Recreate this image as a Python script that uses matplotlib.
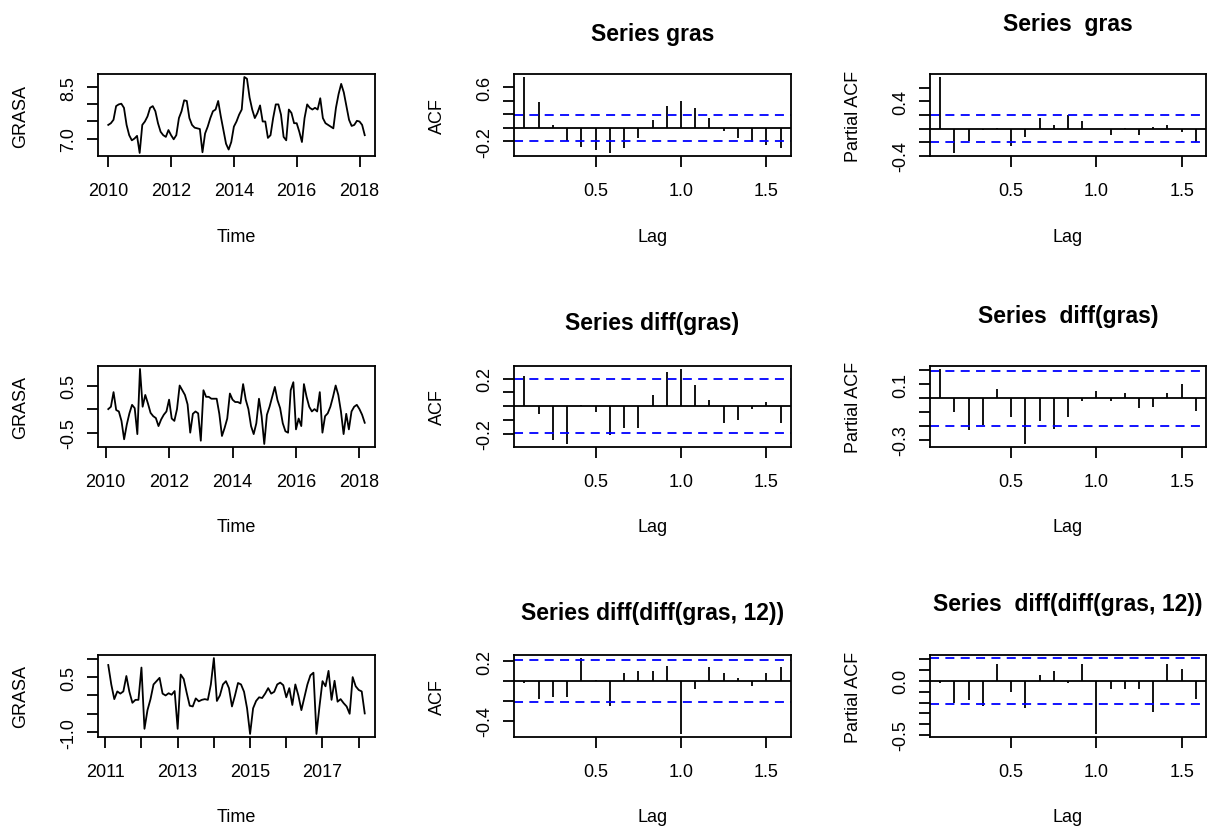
import numpy as np
import matplotlib
matplotlib.use('Agg')
import matplotlib.pyplot as plt

plt.rcParams['font.family'] = ['Liberation Sans', 'DejaVu Sans']

W, H = 1207, 829

# monthly series
gras = [7.4, 7.45, 7.55, 7.95, 8.0, 8.02, 7.9, 7.4, 7.1, 6.95, 7.0, 7.08,
        6.58, 7.4, 7.5, 7.65, 7.9, 7.95, 7.8, 7.45, 7.2, 7.1, 7.05, 7.25,
        7.1, 6.98, 7.1, 7.6, 7.8, 8.12, 8.1, 7.6, 7.4, 7.32, 7.3, 7.28,
        6.6, 7.15, 7.35, 7.6, 7.8, 7.85, 8.1, 7.65, 7.25, 6.85, 6.68, 6.9,
        7.35, 7.5, 7.7, 7.85, 8.8, 8.75, 8.2, 7.85, 7.6, 7.75, 7.97, 7.5,
        7.5, 7.02, 7.1, 7.6, 8.0, 8.0, 7.7, 7.05, 6.95, 7.85, 7.75, 7.45,
        7.45, 7.2, 6.9, 7.6, 8.0, 7.9, 7.85, 7.9, 7.85, 8.18, 7.6, 7.45,
        7.4, 7.35, 7.3, 7.9, 8.3, 8.6, 8.35, 7.95, 7.55, 7.37, 7.4, 7.52,
        7.5, 7.4, 7.1]
gras_start = 2010.0

dgras = [0.0, 0.05, 0.36, -0.02, -0.05, -0.25, -0.64, -0.33, -0.09, 0.09, 0.02,
         -0.53, 0.85, 0.05, 0.3, 0.12, -0.08, -0.15, -0.19, -0.36, -0.22, -0.12, -0.05,
         0.2, -0.2, -0.25, 0.0, 0.5, 0.4, 0.3, 0.1, -0.5, -0.1, -0.05, -0.09,
         -0.67, 0.4, 0.26, 0.26, 0.22, 0.22, 0.22, -0.1, -0.57, -0.4, -0.2, 0.33,
         0.2, 0.15, 0.15, 0.12, 0.53, 0.2, 0.0, -0.36, -0.53, -0.3, 0.22, -0.15,
         -0.74, -0.12, 0.05, 0.26, 0.47, 0.19, 0.02, -0.3, -0.47, -0.5, 0.4, 0.57,
         -0.43, -0.2, -0.36, 0.53, 0.26, 0.05, -0.05, 0.0, -0.05, 0.36, -0.5, -0.15,
         -0.09, 0.05, 0.26, 0.5, 0.3, -0.05, -0.53, -0.1, -0.43, -0.05, 0.05, 0.09,
         0.0, -0.12, -0.29]
dgras_start = 2010 + 1 / 12

ddgras = [0.83, 0.3, -0.1, 0.11, 0.05, 0.11, 0.53, 0.1, -0.2, -0.12, -0.12,
          0.76, -0.91, -0.4, -0.1, 0.3, 0.39, 0.48, 0.05, 0.0, 0.06, 0.02, 0.12,
          -0.91, 0.57, 0.45, 0.07, -0.28, -0.3, -0.08, -0.16, -0.12, -0.1, -0.12, 0.3,
          1.02, -0.15, 0.0, 0.3, 0.39, 0.2, -0.3, 0.0, 0.34, 0.3, 0.1, -0.35,
          -1.05, -0.35, -0.15, -0.05, -0.07, 0.05, 0.2, 0.05, 0.1, 0.3, 0.35, 0.28,
          -0.05, 0.2, -0.26, 0.3, 0.0, -0.4, -0.05, 0.3, 0.55, 0.62, -1.05, -0.3,
          0.39, 0.25, 0.67, -0.12, 0.4, -0.17, -0.1, -0.21, -0.3, -0.5, 0.5, 0.25,
          0.15, 0.11, -0.49]
ddgras_start = 2011 + 1 / 12

# correlations, lags 1..19 (months)
acf1 = [0.75, 0.38, 0.04, -0.2, -0.28, -0.33, -0.37, -0.30, -0.15, 0.11,
        0.32, 0.40, 0.29, 0.14, -0.04, -0.15, -0.21, -0.25, -0.30]
pacf1 = [0.76, -0.36, -0.19, -0.02, 0.01, -0.25, -0.12, 0.16, 0.055, 0.2,
         0.11, -0.01, -0.10, 0.01, -0.10, 0.025, 0.055, -0.045, -0.2]
acf2 = [0.22, -0.057, -0.248, -0.276, 0.005, -0.045, -0.21, -0.16, -0.16, 0.083,
        0.25, 0.27, 0.157, 0.045, -0.12, -0.098, -0.02, 0.03, -0.12]
pacf2 = [0.21, -0.10, -0.226, -0.19, 0.067, -0.136, -0.33, -0.167, -0.224, -0.136,
         -0.02, 0.052, -0.02, 0.04, -0.071, -0.06, 0.04, 0.1, -0.095]
acf3 = [-0.024, -0.186, -0.16, -0.16, 0.23, 0.005, -0.25, 0.078, 0.1, 0.1,
        0.153, -0.535, -0.08, 0.136, 0.078, 0.027, -0.047, 0.078, 0.136]
pacf3 = [-0.02, -0.206, -0.175, -0.228, 0.154, -0.105, -0.25, 0.055, 0.092, -0.02,
         0.154, -0.49, -0.074, -0.074, -0.074, -0.29, 0.154, 0.108, -0.17]
conf = [0.197, 0.198, 0.211]

titles_acf = ['Series gras', 'Series diff(gras)', 'Series diff(diff(gras, 12))']
titles_pacf = ['Series  gras', 'Series  diff(gras)', 'Series  diff(diff(gras, 12))']

# pixel layout
cols = [(98, 375), (514, 791), (930, 1206)]
rows = [(75, 157), (367, 448), (656, 738)]
title_y_acf = [35, 324, 614]
title_y_pacf = [24, 316, 605]
xlab_y = [238, 528, 818]
ylab_x = [21, 437, 853]

LW = 1.3

fig = plt.figure(figsize=(W / 100, H / 100), dpi=100)


def px_axes(c, r):
    x0, x1 = cols[c]
    y0, y1 = rows[r]
    ax = fig.add_axes([x0 / W, 1 - y1 / H, (x1 - x0) / W, (y1 - y0) / H])
    for s in ax.spines.values():
        s.set_linewidth(LW)
    ax.tick_params(direction='out', length=8, width=LW, labelsize=13, pad=7)
    ax.tick_params(axis='x', pad=11)
    return ax


def r_lim(lo, hi):
    pad = 0.04 * (hi - lo)
    return lo - pad, hi + pad


def set_yt(ax, ticks, shown):
    labs = [('%.1f' % t if any(abs(t - s) < 1e-9 for s in shown) else '') for t in ticks]
    ax.set_yticks(ticks)
    ax.set_yticklabels(labs, rotation=90, va='center')


def fig_text(x, y, s, **kw):
    fig.text(x / W, 1 - y / H, s, ha='center', va='center', **kw)


def plot_ts(r, values, start, xticks, xshown, yticks, yshown):
    ax = px_axes(0, r)
    t = start + np.arange(len(values)) / 12
    ax.plot(t, values, color='black', lw=LW)
    ax.set_xlim(*r_lim(t[0], t[-1]))
    ax.set_ylim(*r_lim(min(values), max(values)))
    ax.set_xticks(xticks)
    ax.set_xticklabels([str(x) if x in xshown else '' for x in xticks])
    set_yt(ax, yticks, yshown)
    fig_text(sum(cols[0]) / 2, xlab_y[r], 'Time', fontsize=13)
    fig_text(ylab_x[0], sum(rows[r]) / 2, 'GRASA', fontsize=13, rotation=90)


def plot_cf(c, r, values, clim, title, ylab, yticks, yshown, title_y):
    ax = px_axes(c, r)
    lags = np.arange(1, len(values) + 1) / 12
    ax.vlines(lags, 0, values, color='black', lw=LW)
    ax.axhline(0, color='black', lw=LW)
    for v in (clim, -clim):
        ax.axhline(v, color='#0000FF', lw=LW, linestyle=(0, (5, 3.5)))
    ax.set_xlim(*r_lim(lags[0], lags[-1]))
    ax.set_ylim(*r_lim(min(min(values), -clim), max(max(values), clim)))
    ax.set_xticks([0.5, 1.0, 1.5])
    ax.set_xticklabels(['0.5', '1.0', '1.5'])
    set_yt(ax, yticks, yshown)
    xc = sum(cols[c]) / 2
    fig_text(xc, title_y, title, fontsize=16.5, fontweight='bold')
    fig_text(xc, xlab_y[r], 'Lag', fontsize=13)
    fig_text(ylab_x[c], sum(rows[r]) / 2, ylab, fontsize=13, rotation=90)


plot_ts(0, gras, gras_start, list(range(2010, 2019, 2)), list(range(2010, 2019, 2)),
        [7.0, 7.5, 8.0, 8.5], [7.0, 8.5])
plot_ts(1, dgras, dgras_start, list(range(2010, 2019, 2)), list(range(2010, 2019, 2)),
        [-0.5, 0.0, 0.5], [-0.5, 0.5])
plot_ts(2, ddgras, ddgras_start, list(range(2011, 2019)), [2011, 2013, 2015, 2017],
        [-1.0, -0.5, 0.0, 0.5, 1.0], [-1.0, 0.5])

plot_cf(1, 0, acf1, conf[0], titles_acf[0], 'ACF',
        [-0.2, 0.0, 0.2, 0.4, 0.6], [-0.2, 0.6], title_y_acf[0])
plot_cf(2, 0, pacf1, conf[0], titles_pacf[0], 'Partial ACF',
        [-0.4, -0.2, 0.0, 0.2, 0.4, 0.6], [-0.4, 0.4], title_y_pacf[0])
plot_cf(1, 1, acf2, conf[1], titles_acf[1], 'ACF',
        [-0.2, -0.1, 0.0, 0.1, 0.2], [-0.2, 0.2], title_y_acf[1])
plot_cf(2, 1, pacf2, conf[1], titles_pacf[1], 'Partial ACF',
        [-0.3, -0.2, -0.1, 0.0, 0.1, 0.2], [-0.3, 0.1], title_y_pacf[1])
plot_cf(1, 2, acf3, conf[2], titles_acf[2], 'ACF',
        [-0.4, -0.2, 0.0, 0.2], [-0.4, 0.2], title_y_acf[2])
plot_cf(2, 2, pacf3, conf[2], titles_pacf[2], 'Partial ACF',
        [-0.5, -0.4, -0.3, -0.2, -0.1, 0.0, 0.1, 0.2], [-0.5, 0.0], title_y_pacf[2])

fig.savefig('out.png', dpi=100)
